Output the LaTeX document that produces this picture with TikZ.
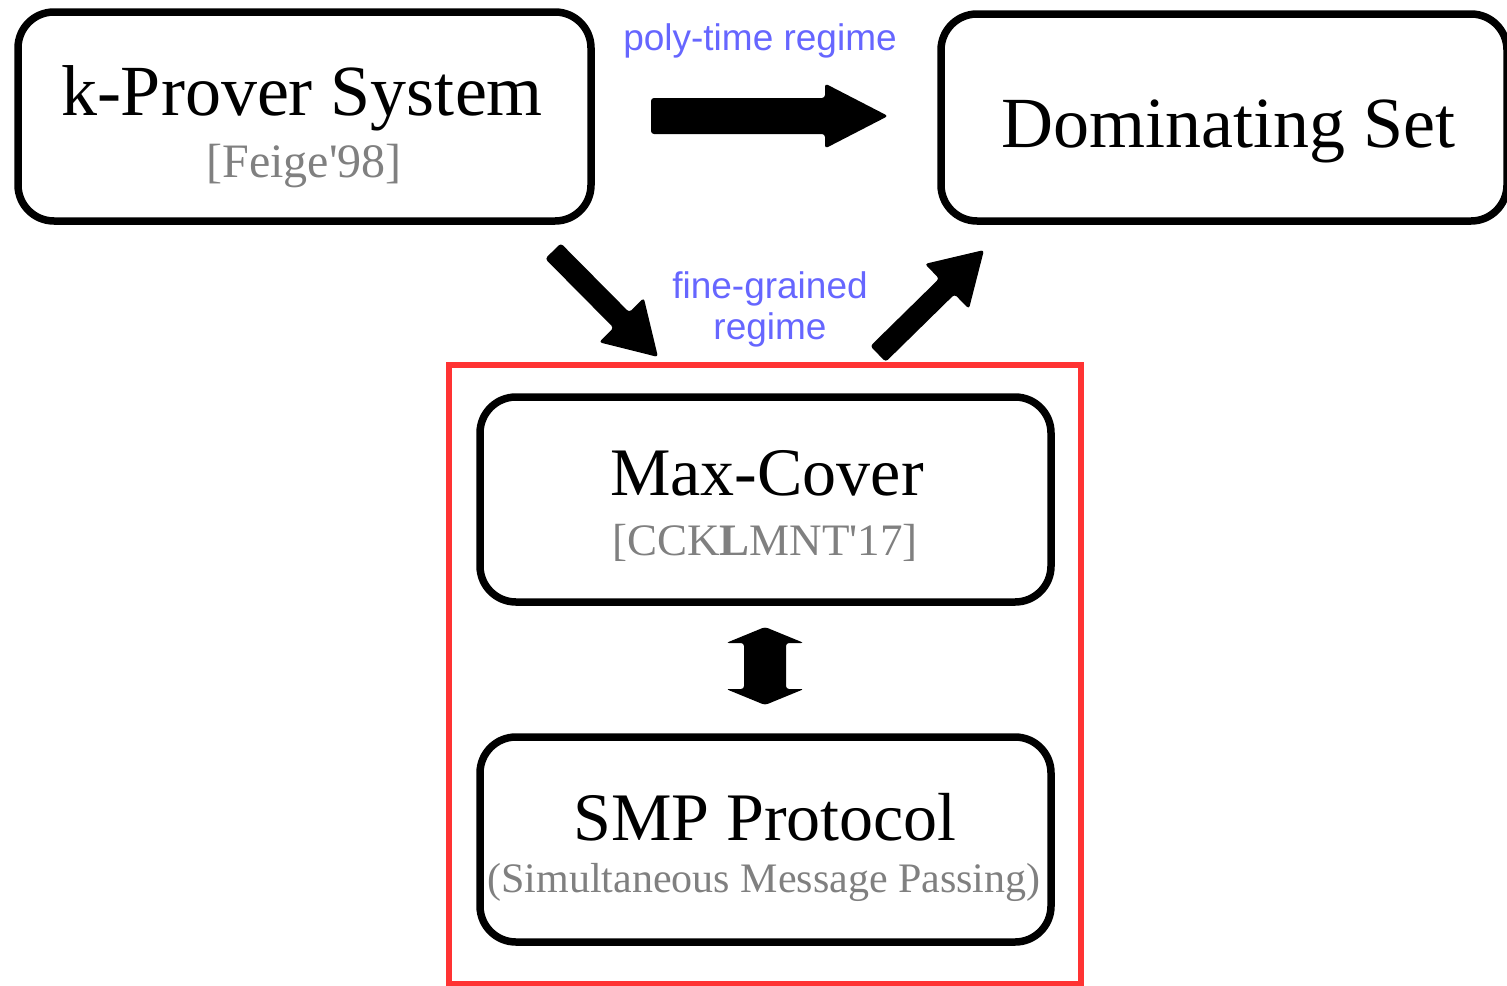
\documentclass[tikz,border=0pt]{standalone}
\usepackage{fontspec}
\newfontfamily\boxfont{Liberation Serif}
\newfontfamily\notefont{Liberation Sans}
\usetikzlibrary{calc}

\definecolor{regimeblue}{RGB}{102,102,255}
\definecolor{framered}{RGB}{255,51,51}
\definecolor{citegray}{RGB}{128,128,128}

% block arrow: #1 tail, #2 tip, #3 half shaft width, #4 half head width, #5 head length
\newcommand{\blockarrow}[5]{%
  \coordinate (hb) at ($(#2)!#5!(#1)$);
  \fill[arrowfill] ($(#1)!#3!90:(#2)$) -- ($(hb)!#3!-90:(#1)$) -- ($(hb)!#4!-90:(#1)$)
    -- (#2) -- ($(hb)!#4!90:(#1)$) -- ($(hb)!#3!90:(#1)$) -- ($(#1)!#3!-90:(#2)$) -- cycle;
}
% two-headed block arrow between tips #1 and #2
\newcommand{\doubleblockarrow}[5]{%
  \coordinate (ha) at ($(#1)!#5!(#2)$);
  \coordinate (hb) at ($(#2)!#5!(#1)$);
  \fill[arrowfill] (#1) -- ($(ha)!#4!90:(#2)$) -- ($(ha)!#3!90:(#2)$) -- ($(hb)!#3!-90:(#1)$)
    -- ($(hb)!#4!-90:(#1)$) -- (#2) -- ($(hb)!#4!90:(#1)$) -- ($(hb)!#3!90:(#1)$)
    -- ($(ha)!#3!-90:(#2)$) -- ($(ha)!#4!-90:(#2)$) -- cycle;
}

\tikzset{
  procbox/.style={draw=black, line width=3.75pt, rounded corners=18pt, inner sep=0pt, outer sep=0pt},
  mainlabel/.style={inner sep=0pt, anchor=base, font=\boxfont\fontsize{36}{40}\selectfont},
  sublabel/.style={inner sep=0pt, anchor=base, font=\boxfont\fontsize{34}{38}\selectfont},
  citelabel/.style={inner sep=0pt, anchor=base, text=citegray},
  regimelabel/.style={inner sep=0pt, anchor=base, text=regimeblue, font=\notefont\fontsize{18.5}{22}\selectfont},
  arrowfill/.style={fill=black, rounded corners=1.5pt},
}

\begin{document}
\begin{tikzpicture}[x=0.5pt, y=-0.5pt]
  \useasboundingbox (0,0) rectangle (1507,985);

  % reduction frame
  \node[draw=framered, line width=3pt, minimum width=316pt, minimum height=309.5pt, inner sep=0pt] (frame) at (765,674.5) {};

  % problem boxes
  \node[procbox, minimum width=286.5pt, minimum height=104.5pt] (kprover) at (304.5,116.5) {};
  \node[procbox, minimum width=283pt, minimum height=103.5pt] (domset) at (1224,117.5) {};
  \node[procbox, minimum width=285.5pt, minimum height=102.5pt] (maxcover) at (765.5,499.5) {};
  \node[procbox, minimum width=285.5pt, minimum height=102.5pt] (smp) at (765.5,839.5) {};

  % box texts
  \node[mainlabel] (kprovertext) at (302,115) {k-Prover System};
  \node[citelabel, font=\boxfont\fontsize{24}{28}\selectfont] (kprovercite) at (304,177) {[Feige'98]};
  \node[mainlabel] (domsettext) at (1228,147) {Dominating Set};
  \node[sublabel] (maxcovertext) at (767,495) {Max-Cover};
  \node[citelabel, font=\boxfont\fontsize{22.5}{26}\selectfont] (maxcovercite) at (765,555) {[CCK\textbf{L}MNT'17]};
  \node[sublabel] (smptext) at (765,840) {SMP Protocol};
  \node[citelabel, font=\boxfont\fontsize{21}{25}\selectfont] (smpcite) at (764,892) {(Simultaneous Message Passing)};

  % regime labels
  \node[regimelabel] (polytime) at (760,50) {poly-time regime};
  \node[regimelabel] (finegrained) at (770,298) {fine-grained};
  \node[regimelabel] (finegrainedb) at (770,339) {regime};

  % arrow end points
  \coordinate (polytail) at (651,116);
  \coordinate (polytip) at (888,116);
  \coordinate (downtail) at (553,251);
  \coordinate (downtip) at (658,357);
  \coordinate (uptail) at (878,354);
  \coordinate (uptip) at (984,250);
  \coordinate (eqtop) at (765,627);
  \coordinate (eqbot) at (765,705);

  \blockarrow{polytail}{polytip}{9pt}{16.25pt}{31.5pt}
  \blockarrow{downtail}{downtip}{5.5pt}{15.75pt}{26pt}
  \blockarrow{uptail}{uptip}{5.5pt}{15.75pt}{26pt}
  \doubleblockarrow{eqtop}{eqbot}{10.5pt}{19.5pt}{8pt}
\end{tikzpicture}
\end{document}
